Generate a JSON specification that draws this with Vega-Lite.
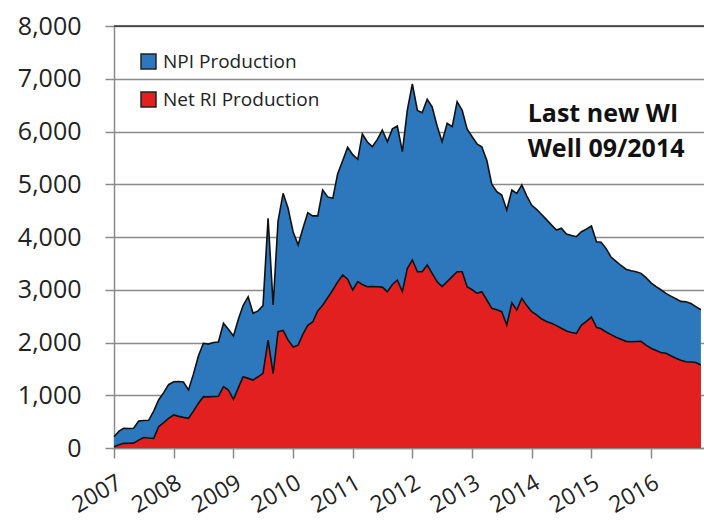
{
  "$schema": "https://vega.github.io/schema/vega-lite/v6.json",
  "width": 590,
  "height": 422,
  "autosize": {"type": "none"},
  "padding": {"left": 114, "top": 26, "right": 0, "bottom": 76},
  "background": "white",
  "config": {"view": {"stroke": null}, "font": "Open Sans"},
  "datasets": {
    "prod": [
      {"date": "2007-01-01", "npi": 214, "ri": 25},
      {"date": "2007-02-01", "npi": 320, "ri": 60},
      {"date": "2007-03-01", "npi": 373, "ri": 88},
      {"date": "2007-04-01", "npi": 370, "ri": 90},
      {"date": "2007-05-01", "npi": 373, "ri": 92},
      {"date": "2007-06-01", "npi": 510, "ri": 150},
      {"date": "2007-07-01", "npi": 520, "ri": 200},
      {"date": "2007-08-01", "npi": 525, "ri": 190},
      {"date": "2007-09-01", "npi": 700, "ri": 183},
      {"date": "2007-10-01", "npi": 910, "ri": 405},
      {"date": "2007-11-01", "npi": 1050, "ri": 480},
      {"date": "2007-12-01", "npi": 1200, "ri": 560},
      {"date": "2008-01-01", "npi": 1257, "ri": 626},
      {"date": "2008-02-01", "npi": 1260, "ri": 600},
      {"date": "2008-03-01", "npi": 1250, "ri": 580},
      {"date": "2008-04-01", "npi": 1100, "ri": 563},
      {"date": "2008-05-01", "npi": 1400, "ri": 700},
      {"date": "2008-06-01", "npi": 1750, "ri": 850},
      {"date": "2008-07-01", "npi": 1985, "ri": 973},
      {"date": "2008-08-01", "npi": 1970, "ri": 970},
      {"date": "2008-09-01", "npi": 2000, "ri": 975},
      {"date": "2008-10-01", "npi": 2010, "ri": 980},
      {"date": "2008-11-01", "npi": 2364, "ri": 1163},
      {"date": "2008-12-01", "npi": 2250, "ri": 1100},
      {"date": "2009-01-01", "npi": 2123, "ri": 923},
      {"date": "2009-02-01", "npi": 2450, "ri": 1150},
      {"date": "2009-03-01", "npi": 2700, "ri": 1352},
      {"date": "2009-04-01", "npi": 2869, "ri": 1320},
      {"date": "2009-05-01", "npi": 2553, "ri": 1289},
      {"date": "2009-06-01", "npi": 2600, "ri": 1350},
      {"date": "2009-07-01", "npi": 2700, "ri": 1416},
      {"date": "2009-08-01", "npi": 4354, "ri": 2047},
      {"date": "2009-09-01", "npi": 2711, "ri": 1409},
      {"date": "2009-10-01", "npi": 4300, "ri": 2205},
      {"date": "2009-11-01", "npi": 4828, "ri": 2230},
      {"date": "2009-12-01", "npi": 4550, "ri": 2050},
      {"date": "2010-01-01", "npi": 4100, "ri": 1915},
      {"date": "2010-02-01", "npi": 3848, "ri": 1950},
      {"date": "2010-03-01", "npi": 4150, "ri": 2150},
      {"date": "2010-04-01", "npi": 4461, "ri": 2325},
      {"date": "2010-05-01", "npi": 4400, "ri": 2389},
      {"date": "2010-06-01", "npi": 4400, "ri": 2600},
      {"date": "2010-07-01", "npi": 4891, "ri": 2705},
      {"date": "2010-08-01", "npi": 4760, "ri": 2850},
      {"date": "2010-09-01", "npi": 4733, "ri": 2995},
      {"date": "2010-10-01", "npi": 5200, "ri": 3150},
      {"date": "2010-11-01", "npi": 5450, "ri": 3280},
      {"date": "2010-12-01", "npi": 5700, "ri": 3200},
      {"date": "2011-01-01", "npi": 5560, "ri": 2995},
      {"date": "2011-02-01", "npi": 5473, "ri": 3153},
      {"date": "2011-03-01", "npi": 5953, "ri": 3100},
      {"date": "2011-04-01", "npi": 5800, "ri": 3058},
      {"date": "2011-05-01", "npi": 5712, "ri": 3060},
      {"date": "2011-06-01", "npi": 5850, "ri": 3058},
      {"date": "2011-07-01", "npi": 6028, "ri": 3050},
      {"date": "2011-08-01", "npi": 5807, "ri": 2963},
      {"date": "2011-09-01", "npi": 6050, "ri": 3100},
      {"date": "2011-10-01", "npi": 6104, "ri": 3185},
      {"date": "2011-11-01", "npi": 5618, "ri": 2963},
      {"date": "2011-12-01", "npi": 6400, "ri": 3400},
      {"date": "2012-01-01", "npi": 6900, "ri": 3564},
      {"date": "2012-02-01", "npi": 6400, "ri": 3342},
      {"date": "2012-03-01", "npi": 6357, "ri": 3342},
      {"date": "2012-04-01", "npi": 6611, "ri": 3469},
      {"date": "2012-05-01", "npi": 6470, "ri": 3311},
      {"date": "2012-06-01", "npi": 6100, "ri": 3150},
      {"date": "2012-07-01", "npi": 5807, "ri": 3058},
      {"date": "2012-08-01", "npi": 6155, "ri": 3153},
      {"date": "2012-09-01", "npi": 6091, "ri": 3250},
      {"date": "2012-10-01", "npi": 6565, "ri": 3342},
      {"date": "2012-11-01", "npi": 6400, "ri": 3342},
      {"date": "2012-12-01", "npi": 6050, "ri": 3058},
      {"date": "2013-01-01", "npi": 5900, "ri": 3000},
      {"date": "2013-02-01", "npi": 5760, "ri": 2932},
      {"date": "2013-03-01", "npi": 5712, "ri": 2963},
      {"date": "2013-04-01", "npi": 5450, "ri": 2806},
      {"date": "2013-05-01", "npi": 5000, "ri": 2648},
      {"date": "2013-06-01", "npi": 4859, "ri": 2620},
      {"date": "2013-07-01", "npi": 4796, "ri": 2584},
      {"date": "2013-08-01", "npi": 4512, "ri": 2332},
      {"date": "2013-09-01", "npi": 4891, "ri": 2755},
      {"date": "2013-10-01", "npi": 4828, "ri": 2616},
      {"date": "2013-11-01", "npi": 4986, "ri": 2838},
      {"date": "2013-12-01", "npi": 4780, "ri": 2700},
      {"date": "2014-01-01", "npi": 4600, "ri": 2584},
      {"date": "2014-02-01", "npi": 4520, "ri": 2520},
      {"date": "2014-03-01", "npi": 4430, "ri": 2450},
      {"date": "2014-04-01", "npi": 4330, "ri": 2400},
      {"date": "2014-05-01", "npi": 4230, "ri": 2364},
      {"date": "2014-06-01", "npi": 4133, "ri": 2320},
      {"date": "2014-07-01", "npi": 4165, "ri": 2270},
      {"date": "2014-08-01", "npi": 4057, "ri": 2220},
      {"date": "2014-09-01", "npi": 4030, "ri": 2190},
      {"date": "2014-10-01", "npi": 4006, "ri": 2174},
      {"date": "2014-11-01", "npi": 4100, "ri": 2330},
      {"date": "2014-12-01", "npi": 4150, "ri": 2400},
      {"date": "2015-01-01", "npi": 4209, "ri": 2483},
      {"date": "2015-02-01", "npi": 3911, "ri": 2288},
      {"date": "2015-03-01", "npi": 3900, "ri": 2260},
      {"date": "2015-04-01", "npi": 3780, "ri": 2200},
      {"date": "2015-05-01", "npi": 3620, "ri": 2150},
      {"date": "2015-06-01", "npi": 3540, "ri": 2100},
      {"date": "2015-07-01", "npi": 3460, "ri": 2060},
      {"date": "2015-08-01", "npi": 3390, "ri": 2022},
      {"date": "2015-09-01", "npi": 3360, "ri": 2015},
      {"date": "2015-10-01", "npi": 3340, "ri": 2020},
      {"date": "2015-11-01", "npi": 3311, "ri": 2022},
      {"date": "2015-12-01", "npi": 3230, "ri": 1950},
      {"date": "2016-01-01", "npi": 3130, "ri": 1890},
      {"date": "2016-02-01", "npi": 3058, "ri": 1850},
      {"date": "2016-03-01", "npi": 3000, "ri": 1810},
      {"date": "2016-04-01", "npi": 2930, "ri": 1795},
      {"date": "2016-05-01", "npi": 2880, "ri": 1750},
      {"date": "2016-06-01", "npi": 2830, "ri": 1700},
      {"date": "2016-07-01", "npi": 2780, "ri": 1662},
      {"date": "2016-08-01", "npi": 2774, "ri": 1636},
      {"date": "2016-09-01", "npi": 2740, "ri": 1630},
      {"date": "2016-10-01", "npi": 2680, "ri": 1620},
      {"date": "2016-11-01", "npi": 2620, "ri": 1573}
    ],
    "notes": [
      {"date": "2013-12-07", "v": 6180, "t": "Last new WI"},
      {"date": "2013-12-07", "v": 5517, "t": "Well 09/2014"}
    ]
  },
  "encoding": {
    "x": {
      "field": "date",
      "type": "temporal",
      "scale": {"type": "utc", "domain": [{"year": 2007, "month": 1, "date": 1, "utc": true}, {"year": 2016, "month": 11, "date": 20, "utc": true}]},
      "axis": {
        "title": null,
        "grid": false,
        "format": "%Y",
        "values": [
          {"year": 2007, "utc": true}, {"year": 2008, "utc": true}, {"year": 2009, "utc": true},
          {"year": 2010, "utc": true}, {"year": 2011, "utc": true}, {"year": 2012, "utc": true},
          {"year": 2013, "utc": true}, {"year": 2014, "utc": true}, {"year": 2015, "utc": true},
          {"year": 2016, "utc": true}
        ],
        "labelAngle": -30,
        "labelFontSize": 23,
        "labelColor": "#222222",
        "labelPadding": 13,
        "tickSize": 10,
        "tickColor": "#8a8a8a",
        "tickWidth": 1.5,
        "domainColor": "#8a8a8a",
        "domainWidth": 1.5,
        "labelOverlap": false,
        "labelFlush": false
      }
    }
  },
  "layer": [
    {
      "data": {"name": "prod"},
      "mark": {"type": "area", "opacity": 1},
      "encoding": {
        "y": {
          "field": "npi",
          "type": "quantitative",
          "scale": {"domain": [0, 8000]},
          "axis": {
            "title": null,
            "values": [0, 1000, 2000, 3000, 4000, 5000, 6000, 7000, 8000],
            "format": ",d",
            "labelFontSize": 25,
            "labelColor": "#222222",
            "labelPadding": 24,
            "tickSize": 9,
            "tickColor": "#8a8a8a",
            "tickWidth": 1.5,
            "domainColor": "#8a8a8a",
            "domainWidth": 1.5,
            "gridColor": "#8a8a8a",
            "gridWidth": 1.5,
            "gridOpacity": 1
          }
        },
        "color": {
          "datum": "NPI Production",
          "type": "nominal",
          "scale": {"domain": ["NPI Production", "Net RI Production"], "range": ["#2d78bd", "#e2201f"]},
          "legend": {
            "title": null,
            "orient": "none",
            "legendX": 25,
            "legendY": 26,
            "symbolType": "square",
            "symbolSize": 225,
            "symbolStrokeColor": "#222222",
            "symbolStrokeWidth": 1.5,
            "symbolOpacity": 1,
            "labelFontSize": 19,
            "labelColor": "#222222",
            "labelOffset": 5,
            "rowPadding": 17
          }
        }
      }
    },
    {
      "data": {"name": "prod"},
      "mark": {"type": "line", "color": "#111111", "strokeWidth": 1.6},
      "encoding": {"y": {"field": "npi", "type": "quantitative"}}
    },
    {
      "data": {"name": "prod"},
      "mark": {"type": "area", "opacity": 1},
      "encoding": {
        "y": {"field": "ri", "type": "quantitative"},
        "color": {"datum": "Net RI Production", "type": "nominal"}
      }
    },
    {
      "data": {"name": "prod"},
      "mark": {"type": "line", "color": "#111111", "strokeWidth": 1.6},
      "encoding": {"y": {"field": "ri", "type": "quantitative"}}
    },
    {
      "data": {"values": [{"top": 8000}]},
      "mark": {"type": "rule", "color": "#333333", "strokeWidth": 1.5},
      "encoding": {"y": {"field": "top", "type": "quantitative"}, "x": {"value": 0}, "x2": {"value": 590}}
    },
    {
      "data": {"name": "notes"},
      "mark": {"type": "text", "align": "left", "baseline": "alphabetic", "fontSize": 25, "fontWeight": "bold", "color": "#111111"},
      "encoding": {
        "y": {"field": "v", "type": "quantitative"},
        "text": {"field": "t", "type": "nominal"}
      }
    }
  ]
}
